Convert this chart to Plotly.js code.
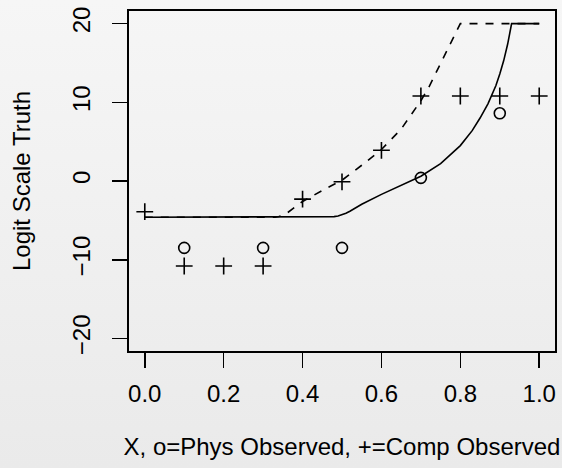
<!DOCTYPE html>
<html>
<head>
<meta charset="utf-8">
<script src="https://cdn.plot.ly/plotly-3.0.1.min.js"></script>
<style>
html, body { margin: 0; padding: 0; }
body { width: 562px; height: 468px; background: linear-gradient(#f6f6f6, #eaeaea); }
#chart { width: 562px; height: 468px; }
</style>
</head>
<body>
<div id="chart"></div>
<script>
// Physical observations (o)
var physX = [0.1, 0.3, 0.5, 0.7, 0.9];
var physY = [-8.5, -8.5, -8.5, 0.4, 8.6];

// Computer observations (+)
var compX = [0.0, 0.1, 0.2, 0.3, 0.4, 0.5, 0.6, 0.7, 0.8, 0.9, 1.0];
var compY = [-3.9, -10.8, -10.8, -10.8, -2.3, -0.1, 3.9, 10.8, 10.8, 10.8, 10.8];

// Solid curve
var solidX = [0.0, 0.3, 0.46, 0.47, 0.48, 0.49, 0.5, 0.51, 0.52, 0.55, 0.6, 0.65, 0.7, 0.75, 0.8, 0.83, 0.85, 0.87, 0.88, 0.89, 0.9, 0.91, 0.92, 0.93, 1.0];
var solidY = [-4.6, -4.6, -4.6, -4.58, -4.53, -4.45, -4.3, -4.1, -3.85, -2.95, -1.7, -0.5, 0.6, 2.2, 4.5, 6.4, 8.0, 9.8, 10.9, 12.1, 13.6, 15.3, 17.4, 20, 20];

// Dashed curve
var dashX = [0.0, 0.33, 0.34, 0.35, 0.36, 0.38, 0.4, 0.45, 0.5, 0.55, 0.6, 0.65, 0.7, 0.72, 0.75, 0.77, 0.78, 0.79, 0.8, 1.0];
var dashY = [-4.6, -4.6, -4.5, -4.35, -4.1, -3.4, -2.6, -1.2, 0.1, 2.0, 4.0, 6.6, 10.2, 11.9, 14.9, 16.9, 17.9, 19.0, 20, 20];

// Tick labels
var xTickVals = [0.0, 0.2, 0.4, 0.6, 0.8, 1.0];
var xTickText = ["0.0", "0.2", "0.4", "0.6", "0.8", "1.0"];
var yTickVals = [-20, -10, 0, 10, 20];
var yTickText = ["\u221220", "\u221210", "0", "10", "20"];

var font = {family: "Liberation Sans, Arial, sans-serif", size: 24, color: "#000"};

var traces = [
  {x: dashX, y: dashY, mode: "lines", line: {color: "#000", width: 1.6, dash: "8px,8px"}, hoverinfo: "skip"},
  {x: solidX, y: solidY, mode: "lines", line: {color: "#000", width: 1.6}, hoverinfo: "skip"},
  {x: physX, y: physY, mode: "markers", marker: {symbol: "circle-open", size: 11, color: "#000", line: {width: 1.6, color: "#000"}}},
  {x: compX, y: compY, mode: "markers", marker: {symbol: "cross-thin-open", size: 12, color: "#000", line: {width: 1.6, color: "#000"}}}
];

var layout = {
  width: 562, height: 468,
  margin: {l: 129, r: 7, t: 11, b: 117},
  paper_bgcolor: "rgba(0,0,0,0)",
  plot_bgcolor: "rgba(0,0,0,0)",
  showlegend: false,
  font: font,
  xaxis: {
    range: [-0.04, 1.04],
    tickvals: xTickVals, ticktext: xTickText,
    ticks: "outside", ticklen: 15, tickwidth: 1.6, tickcolor: "#000",
    showline: true, linecolor: "#000", linewidth: 1.8, mirror: true,
    showgrid: false, zeroline: false,
    ticklabelstandoff: 5,
    tickfont: font,
    title: {text: "X, o=Phys Observed, +=Comp Observed", font: font, standoff: 33}
  },
  yaxis: {
    range: [-21.6, 21.6],
    tickvals: yTickVals, ticktext: yTickText,
    tickangle: -90,
    ticks: "outside", ticklen: 15, tickwidth: 1.6, tickcolor: "#000",
    showline: true, linecolor: "#000", linewidth: 1.8, mirror: true,
    showgrid: false, zeroline: false,
    ticklabelstandoff: 13,
    tickfont: font,
    title: {text: "Logit Scale Truth", font: font, standoff: 30}
  }
};

Plotly.newPlot("chart", traces, layout, {displayModeBar: false, staticPlot: true});
</script>
</body>
</html>
